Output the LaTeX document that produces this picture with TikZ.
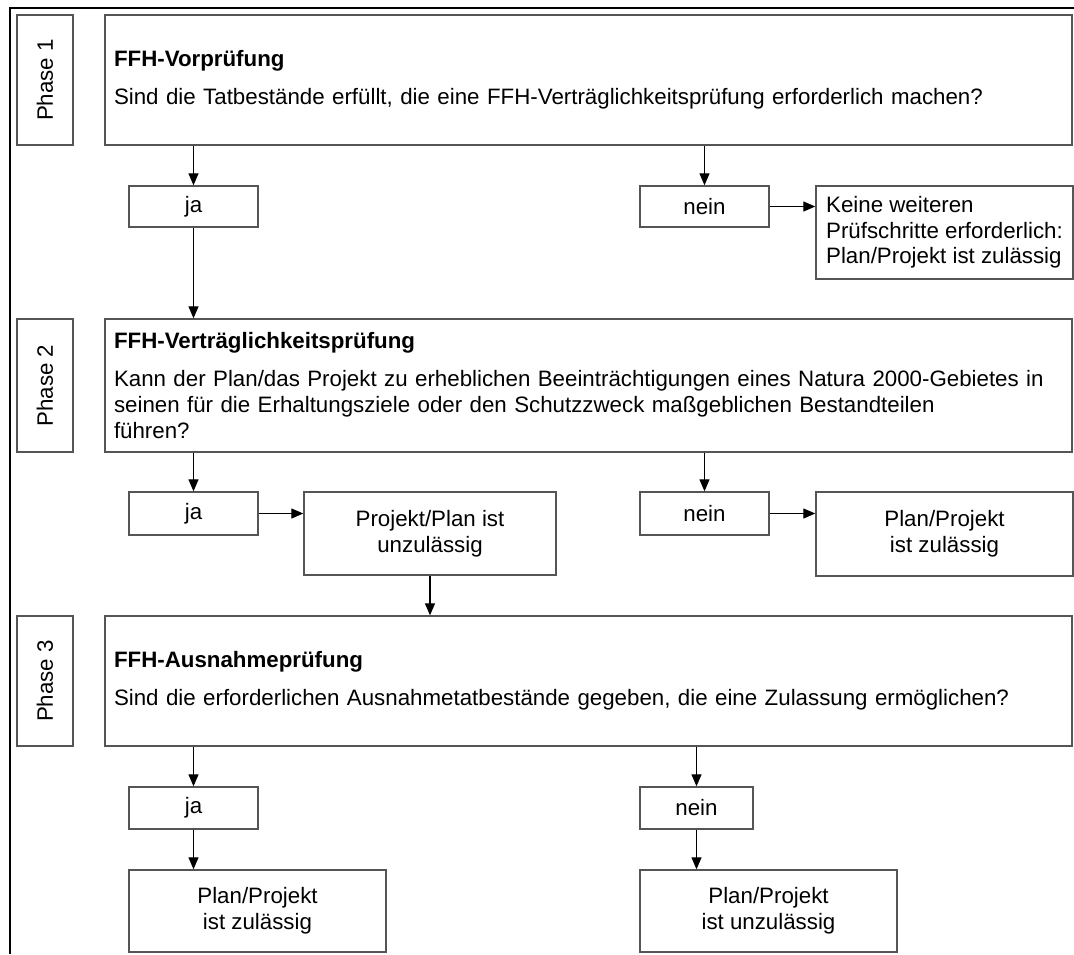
\documentclass[tikz,border=0pt]{standalone}
\usepackage{fontspec}
\setmainfont{Liberation Sans}
\usetikzlibrary{arrows.meta}
\definecolor{boxline}{HTML}{555555}
\newcommand\fs{\fontsize{22.3}{25.7}\selectfont}
\tikzset{
  box/.style={draw=boxline, line width=1.4pt, inner sep=0pt, font=\fs, anchor=center},
  phasebox/.style={box, rotate=90, minimum height=56pt},
  arr/.style={draw=black, line width=1.2pt, -{Triangle[length=12pt,width=10pt]}},
  frame/.style={draw=black, line width=1.6pt}
}
\begin{document}
\begin{tikzpicture}[x=1pt,y=-1pt]
\useasboundingbox (0,0) rectangle (1074,954);
% frame
\coordinate (fbl) at (10,954);
\coordinate (ftl) at (10,8);
\coordinate (ftr) at (1074,8);
\draw[frame] (fbl) -- (ftl) -- (ftr);

% phase labels
\node[phasebox, minimum width=130pt] (p1) at (45,80) {Phase 1};
\node[phasebox, minimum width=133pt] (p2) at (45,385.5) {Phase 2};
\node[phasebox, minimum width=130pt] (p3) at (45,681) {Phase 3};

% main boxes
\node[box, minimum width=967pt, minimum height=130pt, text width=949pt, align=left] (b1) at (588.5,80)
  {\textbf{FFH-Vorprüfung}\\[12pt]Sind die Tatbestände erfüllt, die eine FFH-Verträglichkeitsprüfung erforderlich machen?};
\node[box, minimum width=967pt, minimum height=133pt, text width=949pt, align=left] (b2) at (588.5,385.5)
  {\textbf{FFH-Verträglichkeitsprüfung}\\[12pt]Kann der Plan/das Projekt zu erheblichen Beeinträchtigungen eines Natura 2000-Gebietes in\\seinen für die Erhaltungsziele oder den Schutzzweck maßgeblichen Bestandteilen\\führen?};
\node[box, minimum width=967pt, minimum height=130pt, text width=949pt, align=left] (b3) at (588.5,681)
  {\textbf{FFH-Ausnahmeprüfung}\\[12pt]Sind die erforderlichen Ausnahmetatbestände gegeben, die eine Zulassung ermöglichen?};

% phase 1 answers
\node[box, minimum width=129pt, minimum height=41pt] (ja1) at (193.5,206.5) {ja};
\node[box, minimum width=129pt, minimum height=41pt] (nein1) at (704.5,206.5) {nein};
\node[box, minimum width=257pt, minimum height=93pt, align=left] (keine) at (944.5,232.5)
  {Keine weiteren\\Prüfschritte erforderlich:\\Plan/Projekt ist zulässig};

% phase 2 answers
\node[box, minimum width=129pt, minimum height=43pt] (ja2) at (193.5,513.5) {ja};
\node[box, minimum width=252pt, minimum height=83pt, align=center] (proj2) at (430,533.5)
  {Projekt/Plan ist\\unzulässig};
\node[box, minimum width=129pt, minimum height=43pt] (nein2) at (704.5,513.5) {nein};
\node[box, minimum width=257pt, minimum height=84pt, align=center] (plan2) at (944.5,534)
  {Plan/Projekt\\ist zulässig};

% phase 3 answers
\node[box, minimum width=129pt, minimum height=42pt] (ja3) at (193.5,808) {ja};
\node[box, minimum width=257pt, minimum height=82pt, align=center] (plan3) at (257.5,911)
  {Plan/Projekt\\ist zulässig};
\node[box, minimum width=113pt, minimum height=42pt] (nein3) at (696.5,808) {nein};
\node[box, minimum width=257pt, minimum height=82pt, align=center] (unz3) at (768.5,911)
  {Plan/Projekt\\ist unzulässig};

% connectors
\draw[arr] (ja1.north |- b1.south) -- (ja1.north);
\draw[arr] (nein1.north |- b1.south) -- (nein1.north);
\draw[arr] (nein1.east) -- (nein1.east -| keine.west);
\draw[arr] (ja1.south) -- (ja1.south |- b2.north);

\draw[arr] (ja2.north |- b2.south) -- (ja2.north);
\draw[arr] (nein2.north |- b2.south) -- (nein2.north);
\draw[arr] (ja2.east) -- (ja2.east -| proj2.west);
\draw[arr] (nein2.east) -- (nein2.east -| plan2.west);
\draw[arr] (proj2.south) -- (proj2.south |- b3.north);

\draw[arr] (ja3.north |- b3.south) -- (ja3.north);
\draw[arr] (nein3.north |- b3.south) -- (nein3.north);
\draw[arr] (ja3.south) -- (ja3.south |- plan3.north);
\draw[arr] (nein3.south) -- (nein3.south |- unz3.north);
\end{tikzpicture}
\end{document}
